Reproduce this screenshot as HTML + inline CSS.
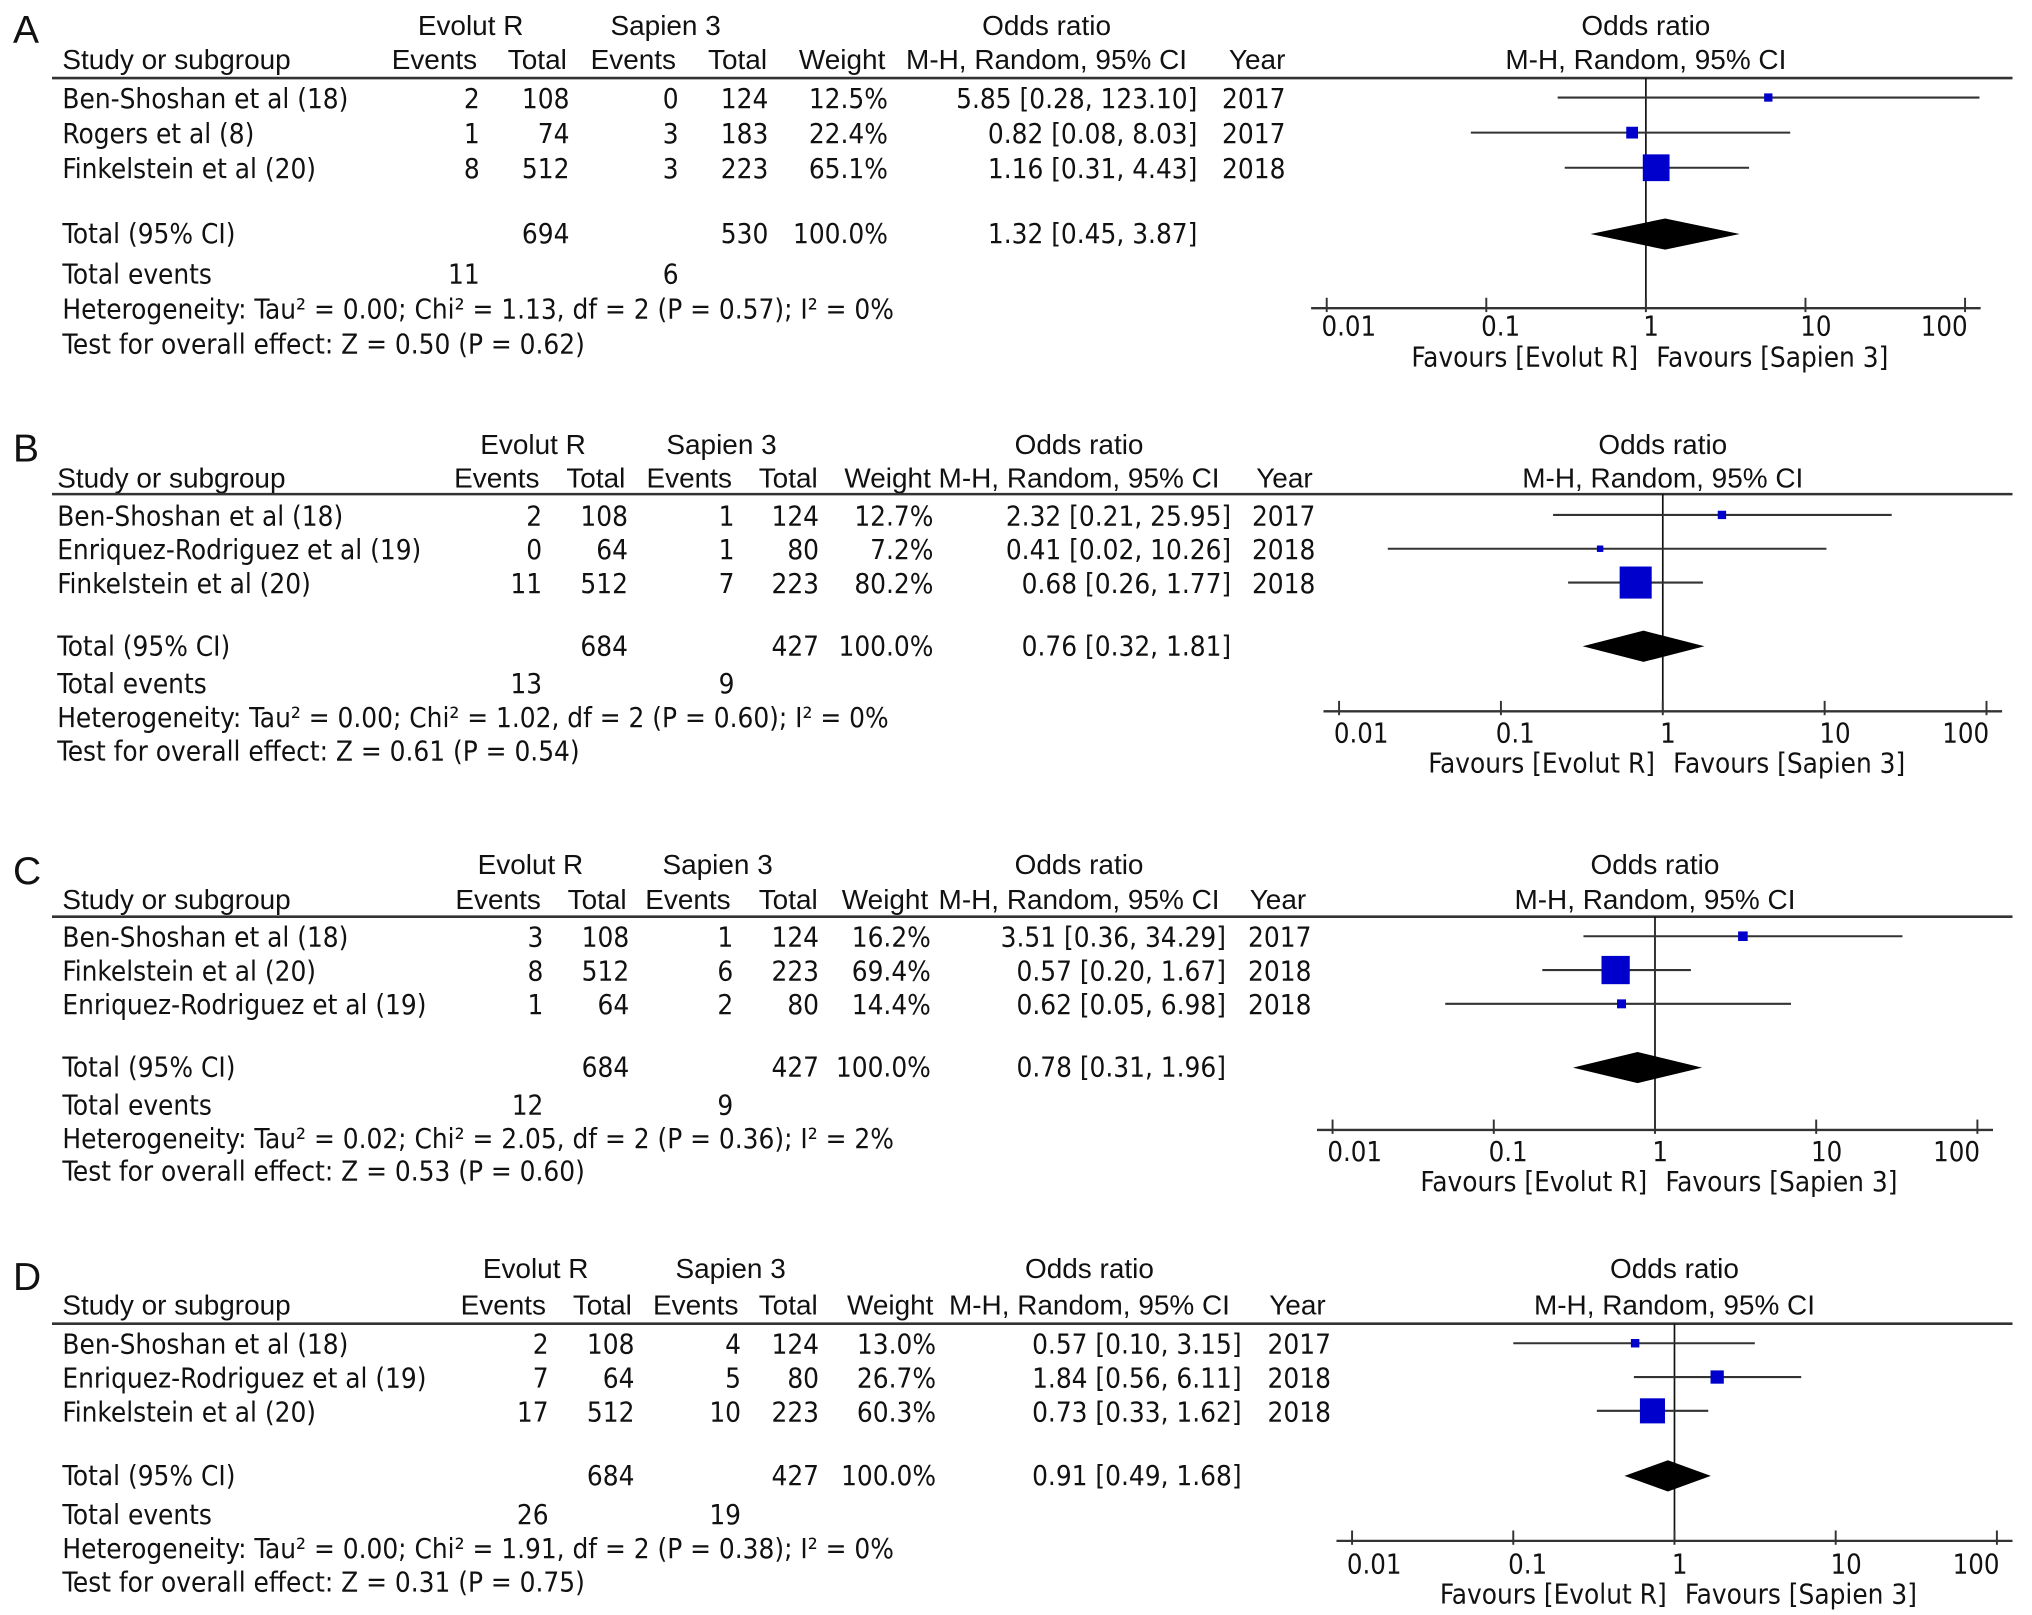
<!DOCTYPE html>
<html><head><meta charset="utf-8">
<style>
html,body{margin:0;padding:0;background:#fff;}
svg{display:block;}
.h{font-family:"Liberation Sans",sans-serif;font-size:21.5px;fill:#111;}
.b{font-family:"DejaVu Sans Condensed","DejaVu Sans","Liberation Sans",sans-serif;font-size:21.3px;fill:#111;}
.tk{font-family:"DejaVu Sans Condensed","DejaVu Sans",sans-serif;font-size:21px;fill:#111;}
</style></head>
<body>
<svg id="fig" width="2032" height="1615" viewBox="0 0 1563 1242" preserveAspectRatio="none" xmlns="http://www.w3.org/2000/svg"></svg>
<script>
// ---- data ----
const panelLetters = ["A","B","C","D"];
const studiesA = ["Ben-Shoshan et al (18)","Rogers et al (8)","Finkelstein et al (20)"];
const studiesB = ["Ben-Shoshan et al (18)","Enriquez-Rodriguez et al (19)","Finkelstein et al (20)"];
const studiesC = ["Ben-Shoshan et al (18)","Finkelstein et al (20)","Enriquez-Rodriguez et al (19)"];
const studiesD = ["Ben-Shoshan et al (18)","Enriquez-Rodriguez et al (19)","Finkelstein et al (20)"];
const evEvolutA=[2,1,8], totEvolutA=[108,74,512], evSapienA=[0,3,3], totSapienA=[124,183,223];
const evEvolutB=[2,0,11], totEvolutB=[108,64,512], evSapienB=[1,1,7], totSapienB=[124,80,223];
const evEvolutC=[3,8,1], totEvolutC=[108,512,64], evSapienC=[1,6,2], totSapienC=[124,223,80];
const evEvolutD=[2,7,17], totEvolutD=[108,64,512], evSapienD=[4,5,10], totSapienD=[124,80,223];
const weightA=[12.5,22.4,65.1], weightB=[12.7,7.2,80.2], weightC=[16.2,69.4,14.4], weightD=[13.0,26.7,60.3];
const orA=[5.85,0.82,1.16], loA=[0.28,0.08,0.31], hiA=[123.10,8.03,4.43];
const orB=[2.32,0.41,0.68], loB=[0.21,0.02,0.26], hiB=[25.95,10.26,1.77];
const orC=[3.51,0.57,0.62], loC=[0.36,0.20,0.05], hiC=[34.29,1.67,6.98];
const orD=[0.57,1.84,0.73], loD=[0.10,0.56,0.33], hiD=[3.15,6.11,1.62];
const yearsA=[2017,2017,2018], yearsB=[2017,2018,2018], yearsC=[2017,2018,2018], yearsD=[2017,2018,2018];
// pooled: [totalEvolut, totalSapien, eventsEvolut, eventsSapien, OR, lo, hi]
const pooledA=[694,530,11,6,1.32,0.45,3.87];
const pooledB=[684,427,13,9,0.76,0.32,1.81];
const pooledC=[684,427,12,9,0.78,0.31,1.96];
const pooledD=[684,427,26,19,0.91,0.49,1.68];
const hetA=["0.00","1.13","2","0.57","0%"], testA=["0.50","0.62"];
const hetB=["0.00","1.02","2","0.60","0%"], testB=["0.61","0.54"];
const hetC=["0.02","2.05","2","0.36","2%"], testC=["0.53","0.60"];
const hetD=["0.00","1.91","2","0.38","0%"], testD=["0.31","0.75"];
const tickValues=[0.01,0.1,1,10,100];
const tickLabels=["0.01","0.1","1","10","100"];

const datasets=[
 {studies:studiesA,e1:evEvolutA,t1:totEvolutA,e2:evSapienA,t2:totSapienA,w:weightA,or:orA,lo:loA,hi:hiA,yr:yearsA,p:pooledA,het:hetA,test:testA},
 {studies:studiesB,e1:evEvolutB,t1:totEvolutB,e2:evSapienB,t2:totSapienB,w:weightB,or:orB,lo:loB,hi:hiB,yr:yearsB,p:pooledB,het:hetB,test:testB},
 {studies:studiesC,e1:evEvolutC,t1:totEvolutC,e2:evSapienC,t2:totSapienC,w:weightC,or:orC,lo:loC,hi:hiC,yr:yearsC,p:pooledC,het:hetC,test:testC},
 {studies:studiesD,e1:evEvolutD,t1:totEvolutD,e2:evSapienD,t2:totSapienD,w:weightD,or:orD,lo:loD,hi:hiD,yr:yearsD,p:pooledD,het:hetD,test:testD}
];
// ---- layout (positions only) ----
const layouts=[
 {letY:33,grp:27,head:53,line:60,rows:[83,110,137],tot:187,ev:218,het:245,test:272,axis:237,lab:258,fav:282,
  sx:48,c1:369,c2:438,c3:522,c4:591,cw:683,cor:921,cy:940,ge:362,gs:512,go:805,gy:967,fc:1266,fd:122.75},
 {letY:355,grp:349,head:375,line:380,rows:[404,430,456],tot:504,ev:533,het:559,test:585,axis:547,lab:571,fav:594,
  sx:44,c1:417,c2:483,c3:565,c4:630,cw:718,cor:947,cy:963,ge:410,gs:555,go:830,gy:988,fc:1279,fd:124.5},
 {letY:680,grp:672,head:699,line:705,rows:[728,754,780],tot:828,ev:857,het:883,test:908,axis:869,lab:893,fav:916,
  sx:48,c1:418,c2:484,c3:564,c4:630,cw:716,cor:943,cy:960,ge:408,gs:552,go:830,gy:983,fc:1273,fd:124},
 {letY:992,grp:983,head:1011,line:1018,rows:[1041,1067,1093],tot:1142,ev:1172,het:1198,test:1224,axis:1185,lab:1210,fav:1233,
  sx:48,c1:422,c2:488,c3:570,c4:630,cw:720,cor:955,cy:975,ge:412,gs:562,go:838,gy:998,fc:1288,fd:124}
];
const NS="http://www.w3.org/2000/svg";
const svg=document.getElementById('fig');
function mk(tag,attrs,parent){const e=document.createElementNS(NS,tag);for(const k in attrs)e.setAttribute(k,attrs[k]);(parent||svg).appendChild(e);return e;}
function txt(s,x,y,cls,anchor,parent,name){const t=mk('text',{x:x,y:y,class:cls,'text-anchor':anchor||'start'},parent);t.textContent=s;
 
 
 return t;}
function f2(v){return v.toFixed(2);}

datasets.forEach((d,pi)=>{
 const L=layouts[pi];
 const g=mk('g',{});
 
 
 const xs=v=>L.fc+Math.log10(v)*L.fd;
 const lt=txt(panelLetters[pi],10,L.letY,'h','start',g,'panel-letter');
 lt.setAttribute('style','font-size:30px');
 txt('Evolut R',L.ge,L.grp,'h','middle',g,'evolut-r-group-header');
 txt('Sapien 3',L.gs,L.grp,'h','middle',g,'sapien-3-group-header');
 txt('Odds ratio',L.go,L.grp,'h','middle',g,'odds-ratio-header');
 txt('Odds ratio',L.fc,L.grp,'h','middle',g,'forest-odds-ratio-header');
 txt('Study or subgroup',L.sx,L.head,'h','start',g,'study-column-header');
 txt('Events',L.c1-2,L.head,'h','end',g,'evolut-events-header');
 txt('Total',L.c2-2,L.head,'h','end',g,'evolut-total-header');
 txt('Events',L.c3-2,L.head,'h','end',g,'sapien-events-header');
 txt('Total',L.c4-1,L.head,'h','end',g,'sapien-total-header');
 txt('Weight',L.cw-2,L.head,'h','end',g,'weight-header');
 txt('M-H, Random, 95% CI',L.go,L.head,'h','middle',g,'method-header');
 txt('Year',L.gy,L.head,'h','middle',g,'year-header');
 txt('M-H, Random, 95% CI',L.fc,L.head,'h','middle',g,'forest-method-header');
 const hl=mk('line',{x1:40,x2:1548,y1:L.line,y2:L.line,stroke:'#333','stroke-width':2},g);
 
 
 const rl=mk('line',{x1:xs(1),x2:xs(1),y1:L.line,y2:L.axis,stroke:'#111','stroke-width':1.3},g);
 
 
 d.studies.forEach((s,i)=>{
  const y=L.rows[i];
  txt(s,L.sx,y,'b','start',g,'study-name');
  txt(String(d.e1[i]),L.c1,y,'b','end',g,'evolut-events');
  txt(String(d.t1[i]),L.c2,y,'b','end',g,'evolut-total');
  txt(String(d.e2[i]),L.c3,y,'b','end',g,'sapien-events');
  txt(String(d.t2[i]),L.c4,y,'b','end',g,'sapien-total');
  txt(d.w[i].toFixed(1)+'%',L.cw,y,'b','end',g,'weight-value');
  txt(f2(d.or[i])+' ['+f2(d.lo[i])+', '+f2(d.hi[i])+']',L.cor,y,'b','end',g,'odds-ratio-value');
  txt(String(d.yr[i]),L.cy,y,'b','start',g,'year-value');
  const cy=y-8;
  const ci=mk('line',{x1:xs(d.lo[i]),x2:xs(d.hi[i]),y1:cy,y2:cy,stroke:'#333','stroke-width':1.6},g);
  
  
  const sz=3+0.27*d.w[i];
  const sq=mk('rect',{x:xs(d.or[i])-sz/2,y:cy-sz/2,width:sz,height:sz,fill:'#0000cc'},g);
  
  
 });
 const p=d.p;
 txt('Total (95% CI)',L.sx,L.tot,'b','start',g,'pooled-label');
 txt(String(p[0]),L.c2,L.tot,'b','end',g,'pooled-evolut-total');
 txt(String(p[1]),L.c4,L.tot,'b','end',g,'pooled-sapien-total');
 txt('100.0%',L.cw,L.tot,'b','end',g,'pooled-weight');
 txt(f2(p[4])+' ['+f2(p[5])+', '+f2(p[6])+']',L.cor,L.tot,'b','end',g,'pooled-odds-ratio');
 const dy=L.tot-7;
 const dm=mk('polygon',{points:`${xs(p[5])},${dy} ${xs(p[4])},${dy-12} ${xs(p[6])},${dy} ${xs(p[4])},${dy+12}`,fill:'#000'},g);
 
 
 txt('Total events',L.sx,L.ev,'b','start',g,'total-events-label');
 txt(String(p[2]),L.c1,L.ev,'b','end',g,'evolut-total-events');
 txt(String(p[3]),L.c3,L.ev,'b','end',g,'sapien-total-events');
 const h=d.het;
 txt('Heterogeneity: Tau² = '+h[0]+'; Chi² = '+h[1]+', df = '+h[2]+' (P = '+h[3]+'); I² = '+h[4],L.sx,L.het,'b','start',g,'heterogeneity-stats');
 txt('Test for overall effect: Z = '+d.test[0]+' (P = '+d.test[1]+')',L.sx,L.test,'b','start',g,'overall-effect-test');
 const x0=xs(tickValues[0]), x1=xs(tickValues[tickValues.length-1]);
 const ax=mk('line',{x1:x0-12,x2:x1+12,y1:L.axis,y2:L.axis,stroke:'#333','stroke-width':1.8},g);
 
 
 tickValues.forEach((v,k)=>{
  const x=xs(v);
  const t=mk('line',{x1:x,x2:x,y1:L.axis-8,y2:L.axis+3,stroke:'#333','stroke-width':1.5},g);
  
  
  const last=k===tickValues.length-1;
  txt(tickLabels[k],last?x+2:x-4+(k===2?2:0),L.lab,'tk',last?'end':'start',g,'x-tick-label');
 });
 txt('Favours [Evolut R]',xs(1)-6,L.fav,'b','end',g,'favours-evolut-label');
 txt('Favours [Sapien 3]',xs(1)+8,L.fav,'b','start',g,'favours-sapien-label');
});
</script>
</body></html>
